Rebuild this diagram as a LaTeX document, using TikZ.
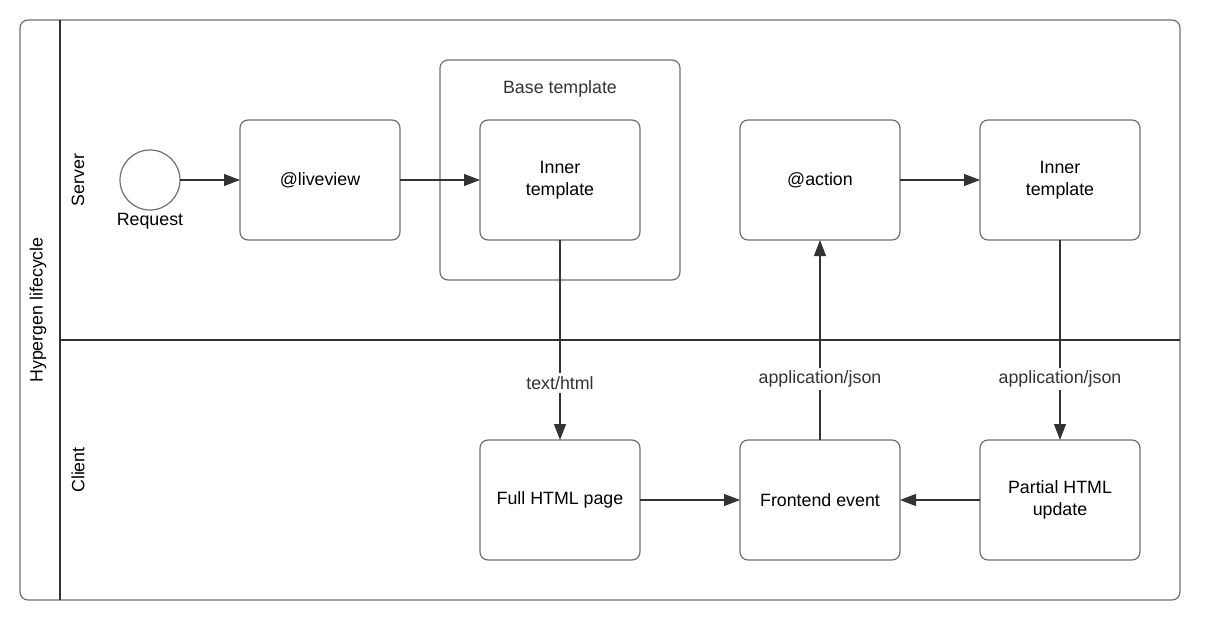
\documentclass[tikz,border=0pt]{standalone}
\usepackage{fontspec}
\setmainfont{Liberation Sans}
\usetikzlibrary{arrows.meta}
\definecolor{linegray}{HTML}{333333}
\definecolor{boxgray}{HTML}{707070}

\begin{document}
\begin{tikzpicture}[x=1pt,y=-1pt,
	every node/.style={font=\fontsize{17.8}{22}\selectfont,text=black},
	task/.style={draw=boxgray,line width=1.2pt,rounded corners=8pt,minimum width=160pt,minimum height=120pt,align=center,outer sep=0pt},
	flow/.style={draw=linegray,line width=1.3pt,-{Triangle[length=16pt,width=12pt]}},
	mime/.style={fill=white,text=linegray,inner sep=3pt}]
	\useasboundingbox (0,0) rectangle (1210,623);
	% pool and lanes
	\draw[boxgray,line width=1.2pt,rounded corners=8pt] (20,20) rectangle (1180,600);
	\draw[linegray,line width=1.3pt] (60,20) -- (60,600) (60,340) -- (1180,340);
	\node[rotate=90] (pool) at (38,310) {Hypergen lifecycle};
	\node[rotate=90] (server) at (78,180) {Server};
	\node[rotate=90] (client) at (78,470) {Client};
	% base template group
	\node[task,minimum width=240pt,minimum height=220pt] (base) at (560,170) {};
	\node[text=linegray] (baselabel) at (560,89) {Base template};
	% server lane
	\node[circle,draw=boxgray,line width=1.2pt,minimum size=60pt,outer sep=0pt] (req) at (150,180) {};
	\node (reqlabel) at (150,221) {Request};
	\node[task] (live) at (320,180) {@liveview};
	\node[task] (inner) at (560,180) {Inner\\template};
	\node[task] (action) at (820,180) {@action};
	\node[task] (innerb) at (1060,180) {Inner\\template};
	% client lane
	\node[task] (full) at (560,500) {Full HTML page};
	\node[task] (event) at (820,500) {Frontend event};
	\node[task] (partial) at (1060,500) {Partial HTML\\update};
	\foreach \from/\to in {req/live,live/inner,action/innerb,full/event,partial/event}
		\draw[flow] (\from) -- (\to);
	\draw[flow] (inner) -- (full) node[mime,pos=0.715] {text/html};
	\draw[flow] (event) -- (action) node[mime,pos=0.305] {application/json};
	\draw[flow] (innerb) -- (partial) node[mime,pos=0.695] {application/json};
\end{tikzpicture}
\end{document}
